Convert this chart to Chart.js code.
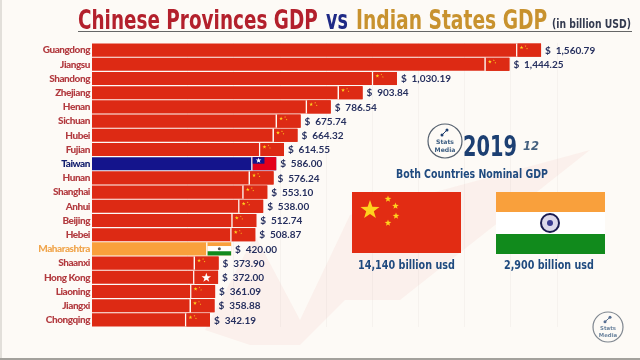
<!DOCTYPE html>
<html>
<head>
<meta charset="utf-8">
<title>Chinese Provinces GDP vs Indian States GDP</title>
<script src="https://cdn.jsdelivr.net/npm/chart.js@4"></script>
<style>
  html, body { margin: 0; padding: 0; background: #fdfaf6; }
  #stage { position: relative; width: 640px; height: 360px; overflow: hidden; background: #fdfaf6; font-family: "DejaVu Sans", sans-serif; font-weight: bold; }
  #stage > * { position: absolute; }
  #wash, #chart, #side { left: 0; top: 0; }
  .t { white-space: nowrap; line-height: 1; transform-origin: left top; }
  .head { top: 6px; font-size: 27px; }
  #rule { left: 78px; top: 31px; width: 554px; height: 1px; background: #666; }
  #year { left: 463px; top: 133px; font-size: 28px; color: #1c3f72; }
  #month { left: 523px; top: 139px; font-size: 13px; font-style: italic; color: #44607f; }
  #both { left: 396px; top: 167px; font-size: 13px; color: #1f4a7f; }
  .total { top: 258px; font-size: 13px; color: #1f4a7f; }
  #frame-l { left: 0; top: 0; width: 2px; height: 360px; background: #e2dfda; }
  #frame-b { left: 0; top: 358px; width: 640px; height: 2px; background: #a3a19c; }
</style>
</head>
<body>
<div id="stage">
  <svg id="wash" width="640" height="360">
    <polygon points="205,330 255,235 300,320 350,215 590,150 400,300 345,300 300,345 250,345" fill="#f7dcd3" opacity="0.3"/>
  </svg>
  <canvas id="chart" width="640" height="360"></canvas>
  <div class="t head" data-x="78" data-w="240" style="color:#b3202c">Chinese Provinces GDP</div>
  <div class="t head" data-x="326" data-w="22" style="color:#1f2a86">vs</div>
  <div class="t head" data-x="356" data-w="191" style="color:#c8922e">Indian States GDP</div>
  <div class="t" data-x="552" data-w="79" style="top:19px;font-size:11.5px;color:#333a4f">(in billion USD)</div>
  <div id="rule"></div>
  <svg id="side" width="640" height="360"></svg>
  <div id="year" class="t" data-x="463" data-w="54">2019</div>
  <div id="month" class="t" data-x="523" data-w="16">12</div>
  <div id="both" class="t" data-x="396" data-w="152">Both Countries Nominal GDP</div>
  <div class="t total" data-x="358" data-w="97">14,140 billion usd</div>
  <div class="t total" data-x="504" data-w="90">2,900 billion usd</div>
  <div id="frame-l"></div>
  <div id="frame-b"></div>
</div>
<script>
const regions = ['Guangdong', 'Jiangsu', 'Shandong', 'Zhejiang', 'Henan', 'Sichuan', 'Hubei', 'Fujian', 'Taiwan', 'Hunan',
  'Shanghai', 'Anhui', 'Beijing', 'Hebei', 'Maharashtra', 'Shaanxi', 'Hong Kong', 'Liaoning', 'Jiangxi', 'Chongqing'];
const gdpValues = [1560.79, 1444.25, 1030.19, 903.84, 786.54, 675.74, 664.32, 614.55, 586.00, 576.24,
  553.10, 538.00, 512.74, 508.87, 420.00, 373.90, 372.00, 361.09, 358.88, 342.19];
const gridValues = [260, 430, 600, 770, 940, 1110, 1280, 1450, 1620];

// bars are cut at the left, the axis of the video does not start at zero
const axisMin = -92;
const axisMax = 1925;

const RED = '#dd2a14', BLUE = '#14148c', ORANGE = '#f9a03c', GREEN = '#118a1c', YELLOW = '#ffd21e';

function barColor(name) {
  if (name === 'Taiwan') return BLUE;
  if (name === 'Maharashtra') return ORANGE;
  return RED;
}
function labelColor(name) {
  if (name === 'Taiwan') return '#14206e';
  if (name === 'Maharashtra') return '#f0a54c';
  return '#b23a3f';
}

// no narrow font installed, so squeeze the html texts to their width
document.querySelectorAll('[data-w]').forEach(el => {
  el.style.left = el.dataset.x + 'px';
  el.style.transform = 'scaleX(' + (el.dataset.w / el.offsetWidth) + ')';
});

function starPoints(cx, cy, r) {
  const pts = [];
  for (let i = 0; i < 10; i++) {
    const rad = i % 2 ? r * 0.4 : r;
    const a = -Math.PI / 2 + i * Math.PI / 5;
    pts.push([cx + rad * Math.cos(a), cy + rad * Math.sin(a)]);
  }
  return pts;
}
function fillStar(ctx, cx, cy, r, color) {
  ctx.fillStyle = color;
  ctx.beginPath();
  starPoints(cx, cy, r).forEach(p => ctx.lineTo(p[0], p[1]));
  ctx.closePath();
  ctx.fill();
}

function drawSmallFlag(ctx, name, x, y, w, h) {
  if (name === 'Taiwan') {
    ctx.fillStyle = '#e4001b';
    ctx.fillRect(x, y, w, h);
    ctx.fillStyle = BLUE;
    ctx.fillRect(x, y, w * 0.5, h * 0.5);
    fillStar(ctx, x + w * 0.25, y + h * 0.25, 3, '#fff');
  } else if (name === 'Maharashtra') {
    ctx.fillStyle = '#fff';
    ctx.fillRect(x, y, w, h);
    ctx.fillStyle = ORANGE;
    ctx.fillRect(x, y, w, h * 0.28);
    ctx.fillStyle = GREEN;
    ctx.fillRect(x, y + h * 0.68, w, h * 0.32);
    ctx.fillStyle = '#555';
    ctx.beginPath();
    ctx.arc(x + w / 2, y + h * 0.48, 1.5, 0, Math.PI * 2);
    ctx.fill();
  } else if (name === 'Hong Kong') {
    ctx.fillStyle = RED;
    ctx.fillRect(x, y, w, h);
    fillStar(ctx, x + w / 2, y + h / 2 + 0.5, 5, '#fff');
  } else {
    ctx.fillStyle = RED;
    ctx.fillRect(x, y, w, h);
    fillStar(ctx, x + 4, y + 4, 2, YELLOW);
    fillStar(ctx, x + 8, y + 2.5, 0.9, YELLOW);
    fillStar(ctx, x + 9.5, y + 5, 0.9, YELLOW);
  }
}

const barEnds = {
  id: 'barEnds',
  beforeDraw(chart) {
    // tighter tick labels, chart.js does not reset this between its own saves
    chart.ctx.save();
    chart.ctx.letterSpacing = '-0.45px';
  },
  afterDraw(chart) {
    chart.ctx.restore();
    const ctx = chart.ctx;
    const bars = chart.getDatasetMeta(0).data;
    ctx.save();
    bars.forEach((bar, i) => {
      const top = bar.y - bar.height / 2;
      const name = regions[i];
      ctx.fillStyle = '#fdfaf6';
      ctx.fillRect(bar.x - 25, top, 1.5, bar.height);
      drawSmallFlag(ctx, name, bar.x - 23.5, top, 23.5, bar.height);

      const text = '$  ' + gdpValues[i].toLocaleString('en-US', { minimumFractionDigits: 2 });
      ctx.font = 'bold 10px Lato, sans-serif';
      ctx.fillStyle = '#27305f';
      ctx.textAlign = 'left';
      ctx.textBaseline = 'middle';
      ctx.fillText(text, bar.x + 4, bar.y + 0.5);
    });
    ctx.restore();
  }
};

new Chart(document.getElementById('chart'), {
  type: 'bar',
  data: {
    labels: regions,
    datasets: [{
      data: gdpValues,
      base: axisMin,
      backgroundColor: regions.map(barColor),
      barPercentage: 0.92,
      categoryPercentage: 1
    }]
  },
  plugins: [barEnds],
  options: {
    indexAxis: 'y',
    responsive: false,
    animation: false,
    layout: { padding: { top: 43, bottom: 33, left: 0, right: 0 } },
    plugins: { legend: { display: false }, title: { display: false }, tooltip: { enabled: false } },
    scales: {
      x: {
        min: axisMin,
        max: axisMax,
        border: { display: false },
        grid: { color: 'rgba(200,190,180,0.12)', drawTicks: false },
        ticks: { display: false },
        afterBuildTicks(scale) { scale.ticks = gridValues.map(v => ({ value: v })); },
        afterFit(scale) { scale.height = 0; }
      },
      y: {
        border: { display: false },
        grid: { display: false, drawTicks: false },
        ticks: {
          autoSkip: false,
          padding: 2,
          color: ctx => labelColor(regions[ctx.index]),
          font: { family: 'Lato, sans-serif', size: 10, weight: '900' }
        },
        afterFit(scale) { scale.width = 92; }
      }
    }
  }
});

// side panel: big flags and the two logos
const NS = 'http://www.w3.org/2000/svg';
const side = document.getElementById('side');
function add(tag, attrs, text) {
  const el = document.createElementNS(NS, tag);
  Object.keys(attrs).forEach(k => el.setAttribute(k, attrs[k]));
  if (text) el.textContent = text;
  side.appendChild(el);
  return el;
}
function bigStar(cx, cy, r) {
  add('polygon', { points: starPoints(cx, cy, r).map(p => p.join(',')).join(' '), fill: YELLOW });
}
add('rect', { x: 352, y: 192, width: 109, height: 61, fill: '#e22c13' });
bigStar(370, 210, 10);
bigStar(388, 199, 3.5);
bigStar(395.5, 206, 3.5);
bigStar(396, 216, 3.5);
bigStar(388, 223, 3.5);

add('rect', { x: 496, y: 192, width: 109, height: 62, fill: '#fff' });
add('rect', { x: 496, y: 192, width: 109, height: 20, fill: ORANGE });
add('rect', { x: 496, y: 234, width: 109, height: 20, fill: GREEN });
add('circle', { cx: 550, cy: 223, r: 9, fill: '#dcd8ea', stroke: '#1b1b50', 'stroke-width': 2 });
add('circle', { cx: 550, cy: 223, r: 3, fill: '#3a3a90' });

function logo(cx, cy, r, opacity) {
  const g = add('g', { opacity: opacity });
  const fs = r * 0.36;
  [['circle', { cx: cx, cy: cy, r: r, fill: 'none', stroke: '#55606e', 'stroke-width': 1.2 }],
   ['circle', { cx: cx + 2, cy: cy - r * 0.65, r: 1.5, fill: '#1f3f6f' }],
   ['circle', { cx: cx - 3, cy: cy - r * 0.35, r: 1.5, fill: '#1f3f6f' }],
   ['line', { x1: cx - 3, y1: cy - r * 0.35, x2: cx + 2, y2: cy - r * 0.65, stroke: '#1f3f6f', 'stroke-width': 1 }]
  ].forEach(d => g.appendChild(add(d[0], d[1])));
  g.appendChild(add('text', { x: cx, y: cy + r * 0.18, 'text-anchor': 'middle', 'font-size': fs, fill: '#3b5c80' }, 'Stats'));
  g.appendChild(add('text', { x: cx, y: cy + r * 0.66, 'text-anchor': 'middle', 'font-size': fs, fill: '#3b5c80' }, 'Media'));
}
logo(445, 141, 17, 1);
logo(608, 327, 15, 0.75);
</script>
</body>
</html>
